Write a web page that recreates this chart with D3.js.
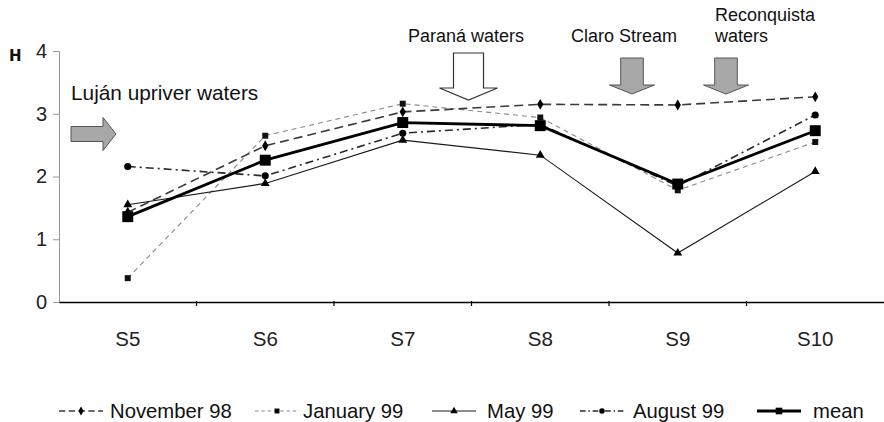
<!DOCTYPE html>
<html>
<head>
<meta charset="utf-8">
<script src="https://cdn.jsdelivr.net/npm/d3@7"></script>
<style>
  html, body { margin: 0; padding: 0; background: #fff; }
  svg { display: block; font-family: "Liberation Sans", Arial, sans-serif; }
</style>
</head>
<body>
<svg id="chart" width="884" height="422"></svg>
<script>
// ---- data ----
const categories = ["S5", "S6", "S7", "S8", "S9", "S10"];
const november98 = [1.43, 2.49, 3.03, 3.15, 3.14, 3.27];
const january99  = [0.38, 2.65, 3.16, 2.94, 1.78, 2.55];
const may99      = [1.55, 1.89, 2.58, 2.34, 0.78, 2.08];
const august99   = [2.16, 2.01, 2.69, 2.83, 1.85, 2.98];
const meanValues = [1.36, 2.26, 2.86, 2.81, 1.88, 2.73];
const yTicks = [0, 1, 2, 3, 4];
const seriesNames = ["November 98", "January 99", "May 99", "August 99", "mean"];
const annotationTexts = ["Luján upriver waters", "Paraná waters", "Claro Stream", "Reconquista", "waters"];

// ---- styles ----
const styles = {
  "November 98": { values: november98, color: "#3a3a3a", width: 1.6, dash: "9,5", symbol: d3.symbolDiamond, size: 34, lsize: 24 },
  "January 99":  { values: january99,  color: "#8a8a8a", width: 1.1, dash: "5,4", symbol: d3.symbolSquare, size: 36, lsize: 24, mcolor: "#111" },
  "May 99":      { values: may99,      color: "#1a1a1a", width: 1.1, dash: null, symbol: d3.symbolTriangle, size: 34, lsize: 24 },
  "August 99":   { values: august99,   color: "#2a2a2a", width: 1.6, dash: "8,4,2,4", symbol: d3.symbolCircle, size: 40, lsize: 24 },
  "mean":        { values: meanValues, color: "#000", width: 2.8, dash: null, symbol: d3.symbolSquare, size: 120, lsize: 44 }
};

const svg = d3.select("#chart");
const x = d3.scaleBand().domain(categories).range([59, 884]).padding(0);
const y = d3.scaleLinear().domain([0, 4]).range([302, 51]);
const cx = c => x(c) + x.bandwidth() / 2;

// y axis
const yAxis = svg.append("g").attr("transform", "translate(59,0)")
  .call(d3.axisLeft(y).tickValues(yTicks).tickSize(6).tickPadding(6).tickFormat(d3.format("d")));
yAxis.select(".domain").attr("stroke", "#999").attr("stroke-width", 1);
yAxis.selectAll(".tick line").attr("stroke", "#999");
yAxis.selectAll(".tick text").attr("font-size", 20).attr("fill", "#222")
  .attr("font-family", "Liberation Sans, Arial, sans-serif");

// x axis
const xAxis = svg.append("g").attr("transform", "translate(0,302)")
  .call(d3.axisBottom(x).tickSize(0).tickPadding(29));
xAxis.select(".domain").attr("stroke", "#000").attr("stroke-width", 1.5);
xAxis.selectAll(".tick text").attr("font-size", 20.5).attr("fill", "#222")
  .attr("font-family", "Liberation Sans, Arial, sans-serif");
xAxis.selectAll(".bound").data(categories.slice(1)).enter().append("line")
  .attr("x1", d => x(d)).attr("x2", d => x(d)).attr("y1", -1).attr("y2", 4)
  .attr("stroke", "#000").attr("stroke-width", 1.2);

// H label
svg.append("text").attr("x", 9).attr("y", 61).text("H")
  .attr("font-family", "DejaVu Sans, sans-serif").attr("font-weight", "bold")
  .attr("font-size", 15).attr("fill", "#111");

// series lines
const order = ["January 99", "November 98", "May 99", "August 99", "mean"];
const line = d3.line().x((d, i) => cx(categories[i])).y(d => y(d));
order.forEach(name => {
  const s = styles[name];
  svg.append("path").datum(s.values).attr("d", line)
    .attr("fill", "none").attr("stroke", s.color).attr("stroke-width", s.width)
    .attr("stroke-dasharray", s.dash);
});
order.forEach(name => {
  const s = styles[name];
  svg.selectAll(null).data(s.values).enter().append("path")
    .attr("d", d3.symbol().type(s.symbol).size(s.size))
    .attr("transform", (d, i) => `translate(${cx(categories[i])},${y(d)})`)
    .attr("fill", s.mcolor || "#000");
});

// annotations
function txt(t, xx, yy, size) {
  svg.append("text").attr("x", xx).attr("y", yy).text(t)
    .attr("font-size", size || 18).attr("fill", "#111");
}
txt(annotationTexts[0], 71, 100, 20.8);
txt(annotationTexts[1], 408, 42);
txt(annotationTexts[2], 571, 42);
txt(annotationTexts[3], 715, 21);
txt(annotationTexts[4], 715, 42);

// arrows
function downArrowSmall(xc) {
  const bw = 11.3, hw = 22.5, top = 58, neck = 85, tip = 94;
  const pts = [[xc - bw, top], [xc + bw, top], [xc + bw, neck], [xc + hw, neck], [xc, tip],
               [xc - hw, neck], [xc - bw, neck]];
  svg.append("path").attr("d", "M" + pts.join("L") + "Z")
    .attr("fill", "#a8a8a8").attr("stroke", "#555").attr("stroke-width", 1);
}
// Paraná (white)
(function () {
  const xc = (cx("S7") + cx("S8")) / 2 - 3;
  const bw = 15, hw = 29, top = 53, neck = 88, tip = 100;
  const pts = [[xc - bw, top], [xc + bw, top], [xc + bw, neck], [xc + hw, neck], [xc, tip],
               [xc - hw, neck], [xc - bw, neck]];
  svg.append("path").attr("d", "M" + pts.join("L") + "Z")
    .attr("fill", "#fff").attr("stroke", "#333").attr("stroke-width", 1.2);
})();
downArrowSmall(632);
downArrowSmall(726);
// Luján (right-pointing)
(function () {
  const yc = 134, bh = 7.5, hh = 16.5, left = 71, neck = 103, tip = 116;
  const pts = [[left, yc - bh], [neck, yc - bh], [neck, yc - hh], [tip, yc], [neck, yc + hh],
               [neck, yc + bh], [left, yc + bh]];
  svg.append("path").attr("d", "M" + pts.join("L") + "Z")
    .attr("fill", "#a8a8a8").attr("stroke", "#555").attr("stroke-width", 1);
})();

// legend
const legendPos = [
  { lx: 59, tx: 110 }, { lx: 255, tx: 303 }, { lx: 432, tx: 487 },
  { lx: 580, tx: 633 }, { lx: 757, tx: 813 }
];
const ly = 411;
seriesNames.forEach((name, i) => {
  const s = styles[name];
  const p = legendPos[i];
  const len = 44;
  svg.append("line").attr("x1", p.lx).attr("x2", p.lx + len).attr("y1", ly).attr("y2", ly)
    .attr("stroke", s.color).attr("stroke-width", s.width)
    .attr("stroke-dasharray", s.dash ? s.dash.split(",").map(v => v * 0.7).join(",") : null);
  svg.append("path").attr("d", d3.symbol().type(s.symbol).size(s.lsize))
    .attr("transform", `translate(${p.lx + len / 2},${ly})`).attr("fill", "#000");
  svg.append("text").attr("x", p.tx).attr("y", 418).text(name)
    .attr("font-size", 20.3).attr("fill", "#111");
});
</script>
</body>
</html>
